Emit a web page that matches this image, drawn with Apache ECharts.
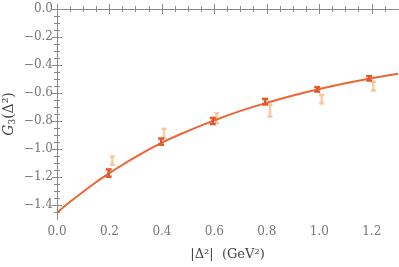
<!DOCTYPE html>
<html><head><meta charset="utf-8">
<script src="https://cdn.jsdelivr.net/npm/echarts@6/dist/echarts.min.js"></script>
<style>html,body{margin:0;padding:0;background:#fff}#c{width:399px;height:267px}</style>
</head><body><div id="c"></div>
<script>
// Lattice data (dark): [x, y, err]
var darkX = [0.197, 0.397, 0.594, 0.793, 0.992, 1.190];
var darkY = [-1.172, -0.947, -0.800, -0.662, -0.574, -0.495];
var darkErr = [0.026, 0.022, 0.022, 0.020, 0.016, 0.016];
// Second (faded) data set
var lightX = [0.211, 0.408, 0.609, 0.812, 1.009, 1.206];
var lightY = [-1.083, -0.890, -0.780, -0.727, -0.644, -0.551];
var lightErr = [0.030, 0.034, 0.036, 0.042, 0.030, 0.032];
// Fit curve
var curveX = [0.0, 0.05, 0.1, 0.15, 0.2, 0.3, 0.4, 0.5, 0.6, 0.7, 0.8, 0.9, 1.0, 1.1, 1.2, 1.3];
var curveY = [-1.455, -1.377, -1.305, -1.236, -1.172, -1.057, -0.955, -0.870, -0.795, -0.728, -0.670, -0.618, -0.572, -0.531, -0.494, -0.462];
var bandHalf = [0.035, 0.031, 0.026, 0.020, 0.015, 0.009, 0.006, 0.005, 0.004, 0.004, 0.004, 0.004, 0.004, 0.004, 0.005, 0.006];
// Ticks
var xMajor = [0, 0.2, 0.4, 0.6, 0.8, 1.0, 1.2];
var xMinor = [0.05,0.1,0.15,0.25,0.3,0.35,0.45,0.5,0.55,0.65,0.7,0.75,0.85,0.9,0.95,1.05,1.1,1.15,1.25];
var yMajor = [-1.4, -1.2, -1.0, -0.8, -0.6, -0.4, -0.2, 0.0];
var yMinor = [-1.45,-1.35,-1.3,-1.25,-1.15,-1.1,-1.05,-0.95,-0.9,-0.85,-0.75,-0.7,-0.65,-0.55,-0.5,-0.45,-0.35,-0.3,-0.25,-0.15,-0.1,-0.05];

var frame = '#8a8a8a';
var fontFam = 'DejaVu Serif';
function fmt(v){ var s = Math.abs(v).toFixed(1); return (v < -1e-9 ? '\u2212' : '') + s; }

function xAx(pos, vals, len, labels, extra){
  var a = {type:'value', min:0, max:1.3, position:pos,
    axisLine:{show:true, lineStyle:{color:frame, width:1}},
    axisTick:{show:true, inside:true, length:len, customValues:vals, lineStyle:{color:frame}},
    axisLabel:{show:labels, customValues:vals, formatter:fmt, color:'#777', fontFamily:fontFam, fontSize:12, margin:7},
    splitLine:{show:false}};
  return Object.assign(a, extra||{});
}
function yAx(pos, vals, len, labels, extra){
  var a = {type:'value', min:-1.5, max:0, position:pos,
    axisLine:{show:true, lineStyle:{color:frame, width:1}},
    axisTick:{show:true, inside:true, length:len, customValues:vals, lineStyle:{color:frame}},
    axisLabel:{show:labels, customValues:vals, formatter:fmt, color:'#777', fontFamily:fontFam, fontSize:12, margin:4},
    splitLine:{show:false}};
  return Object.assign(a, extra||{});
}

function errItem(color, lw, cap){
  return function(params, api){
    var x = api.value(0), y = api.value(1), e = api.value(2);
    var top = api.coord([x, y + e]), bot = api.coord([x, y - e]);
    var st = {stroke: color, lineWidth: lw};
    return {type:'group', children:[
      {type:'line', shape:{x1:top[0], y1:top[1], x2:bot[0], y2:bot[1]}, style:st},
      {type:'line', shape:{x1:top[0]-cap, y1:top[1], x2:top[0]+cap, y2:top[1]}, style:st},
      {type:'line', shape:{x1:bot[0]-cap, y1:bot[1], x2:bot[0]+cap, y2:bot[1]}, style:st}
    ]};
  };
}
function zip3(a,b,c){ return a.map(function(v,i){ return [v, b[i], c[i]]; }); }

var lowData = curveX.map(function(x,i){ return [x, curveY[i]-bandHalf[i]]; });
var widthData = curveX.map(function(x,i){ return [x, 2*bandHalf[i]]; });

var chart = echarts.init(document.getElementById('c'), null, {renderer:'canvas'});
chart.setOption({
  animation:false,
  grid:{left:57, right:1, top:9, bottom:48, containLabel:false, outerBoundsMode:'none'},
  xAxis:[
    xAx('bottom', xMajor, 5, true, {name:'|\u0394\u00b2|  (GeV\u00b2)', nameLocation:'middle', nameGap:29, nameMoveOverlap:false,
      nameTextStyle:{fontFamily:fontFam, fontSize:13, color:'#444'}}),
    xAx('bottom', xMinor, 3, false),
    xAx('top', xMajor, 5, false),
    xAx('top', xMinor, 3, false)
  ],
  yAxis:[
    yAx('left', yMajor, 5, true, {name:'{i|G}{s|3}{n|(\u0394\u00b2)}', nameLocation:'middle', nameGap:40, nameMoveOverlap:false,
      nameTextStyle:{fontFamily:fontFam, fontSize:13, color:'#444',
        rich:{i:{fontStyle:'italic', fontFamily:fontFam, fontSize:14, color:'#444'},
              s:{fontFamily:fontFam, fontSize:9, color:'#444', verticalAlign:'bottom', padding:[6,0,0,0]},
              n:{fontFamily:fontFam, fontSize:14, color:'#444'}}}}),
    yAx('left', yMinor, 3, false),
    yAx('right', yMajor, 5, false),
    yAx('right', yMinor, 3, false)
  ],
  series:[
    {type:'line', data:lowData, stack:'band', smooth:true, symbol:'none', lineStyle:{opacity:0}, silent:true},
    {type:'line', data:widthData, stack:'band', smooth:true, symbol:'none', lineStyle:{opacity:0},
      areaStyle:{color:'rgba(242,150,120,0.22)'}, silent:true},
    {type:'custom', renderItem:errItem('rgba(248,185,135,0.75)', 2.5, 2.5), data:zip3(lightX, lightY, lightErr), z:3},
    {type:'line', data:curveX.map(function(x,i){return [x, curveY[i]];}), smooth:true, symbol:'none',
      lineStyle:{color:'#eb6634', width:2}, z:4},
    {type:'custom', renderItem:errItem('#e25a2c', 2.5, 3), data:zip3(darkX, darkY, darkErr), z:5}
  ]
});
</script></body></html>
